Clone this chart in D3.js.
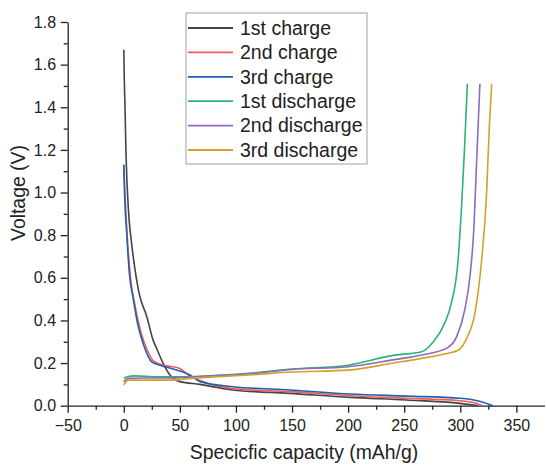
<!DOCTYPE html>
<html>
<head>
<meta charset="utf-8">
<script src="https://cdn.jsdelivr.net/npm/d3@7"></script>
<style>
  body { margin: 0; background: #fff; }
  text { font-family: "Liberation Sans", Arial, sans-serif; fill: #222; }
</style>
</head>
<body>
<div id="chart"></div>
<script>
// capacity (mAh/g) / voltage (V) pairs
const charge1 = [[0,1.67],[0.5,1.52],[1,1.42],[2,1.18],[4,0.93],[7,0.76],[10,0.64],[14,0.52],[20.4,0.42],[26,0.31],[30,0.26],[35,0.2],[41,0.145],[50,0.113],[68,0.1],[97,0.074],[148,0.058],[202,0.039],[252,0.027],[300,0.011],[316,0]];
const charge2 = [[0,1.13],[1,1.0],[3,0.8],[6,0.6],[10,0.47],[15,0.35],[21,0.26],[26.4,0.21],[35,0.19],[41,0.185],[50,0.175],[57.5,0.144],[68,0.118],[97,0.08],[148,0.066],[202,0.047],[252,0.035],[300,0.023],[314,0.012],[320,0]];
const charge3 = [[0,1.13],[0.8,0.98],[2.6,0.81],[5,0.62],[8.5,0.5],[12.5,0.38],[17.4,0.29],[21,0.24],[24.9,0.206],[32.3,0.19],[47,0.168],[59,0.144],[68,0.113],[97.5,0.089],[148,0.074],[202,0.055],[252,0.045],[300,0.035],[318,0.02],[329,0]];
const discharge1 = [[0,0.128],[3,0.136],[10,0.14],[30,0.135],[50,0.135],[80,0.142],[112,0.152],[150,0.172],[200,0.19],[240,0.236],[265.6,0.253],[276,0.3],[286,0.386],[292,0.48],[298,0.68],[301,0.92],[304,1.23],[306.3,1.51]];
const discharge2 = [[0,0.113],[4,0.128],[15,0.13],[40,0.13],[60,0.135],[80,0.14],[112,0.15],[150,0.17],[200,0.183],[240,0.215],[265.6,0.238],[288,0.27],[296.8,0.324],[304,0.45],[308.6,0.605],[312.2,0.84],[314.6,1.15],[317.5,1.51]];
const discharge3 = [[0,0.097],[4,0.12],[15,0.12],[40,0.12],[60,0.128],[80,0.135],[112,0.144],[150,0.158],[200,0.167],[240,0.2],[265.6,0.222],[288,0.245],[298,0.26],[305.7,0.316],[313,0.433],[319,0.68],[323.5,1.0],[325.9,1.31],[328,1.51]];

const seriesNames = ["1st charge","2nd charge","3rd charge","1st discharge","2nd discharge","3rd discharge"];
const seriesData = [charge1, charge2, charge3, discharge1, discharge2, discharge3];
const colors = ["#444444","#f45b5b","#1f5fb4","#2bb37a","#8e6bbf","#d4a02a"];

const xTicks = [-50,0,50,100,150,200,250,300,350];
const yTicks = [0,0.2,0.4,0.6,0.8,1.0,1.2,1.4,1.6,1.8];

const W = 546, H = 465;
const margin = {top: 22, right: 1.6, bottom: 59.3, left: 67.7};

const svg = d3.select("#chart").append("svg")
  .attr("width", W).attr("height", H);

const x = d3.scaleLinear().domain([-50, 375]).range([margin.left, W - margin.right]);
const y = d3.scaleLinear().domain([0, 1.8]).range([H - margin.bottom, margin.top]);

// minor ticks
svg.append("g")
  .attr("transform", `translate(0,${y(0)})`)
  .call(d3.axisBottom(x).tickValues(d3.range(-25, 375, 50)).tickSize(4).tickFormat(""))
  .call(g => g.select(".domain").remove());
svg.append("g")
  .attr("transform", `translate(${x(-50)},0)`)
  .call(d3.axisLeft(y).tickValues(d3.range(0.1, 1.8, 0.2)).tickSize(4).tickFormat(""))
  .call(g => g.select(".domain").remove());

// x axis
const xAxis = svg.append("g")
  .attr("transform", `translate(0,${y(0)})`)
  .call(d3.axisBottom(x).tickValues(xTicks).tickSize(7).tickSizeOuter(0)
    .tickFormat(d => d < 0 ? "\u2212" + Math.abs(d) : d));
xAxis.selectAll("text").attr("font-size", 16).attr("y", 10).attr("dy", "0.94em");

// y axis
const yAxis = svg.append("g")
  .attr("transform", `translate(${x(-50)},0)`)
  .call(d3.axisLeft(y).tickValues(yTicks).tickSize(7).tickSizeOuter(0).tickFormat(d3.format(".1f")));
yAxis.selectAll("text").attr("font-size", 16).attr("dx", "-0.1em");

svg.selectAll(".domain, .tick line").attr("stroke", "#222").attr("stroke-width", 1.3);
svg.selectAll(".tick text").style("font-family", "'Liberation Sans', Arial, sans-serif").attr("fill", "#222");

// titles
svg.append("text")
  .attr("x", 304).attr("y", 459)
  .attr("text-anchor", "middle").attr("font-size", 19.4)
  .text("Specicfic capacity (mAh/g)");
svg.append("text")
  .attr("transform", "translate(25,193) rotate(-90)")
  .attr("text-anchor", "middle").attr("font-size", 19.4)
  .text("Voltage (V)");

// curves
const line = d3.line()
  .x(d => x(d[0]))
  .y(d => y(d[1]))
  .curve(d3.curveMonotoneX);

svg.append("g").selectAll("path")
  .data(seriesData)
  .join("path")
    .attr("d", line)
    .attr("fill", "none")
    .attr("stroke", (d, i) => colors[i])
    .attr("stroke-width", 1.6);

// legend
const legend = svg.append("g").attr("transform", "translate(186,13)");
legend.append("rect")
  .attr("width", 181).attr("height", 151)
  .attr("fill", "#fff").attr("stroke", "#a0a0a0").attr("stroke-width", 1);
const items = legend.selectAll("g.item")
  .data(seriesNames)
  .join("g")
    .attr("class", "item")
    .attr("transform", (d, i) => `translate(0,${15 + i * 24.4})`);
items.append("line")
  .attr("x1", 2).attr("x2", 47)
  .attr("stroke", (d, i) => colors[i]).attr("stroke-width", 1.8);
items.append("text")
  .attr("x", 54).attr("dy", "0.35em")
  .attr("font-size", 19.5)
  .text(d => d);
</script>
</body>
</html>
